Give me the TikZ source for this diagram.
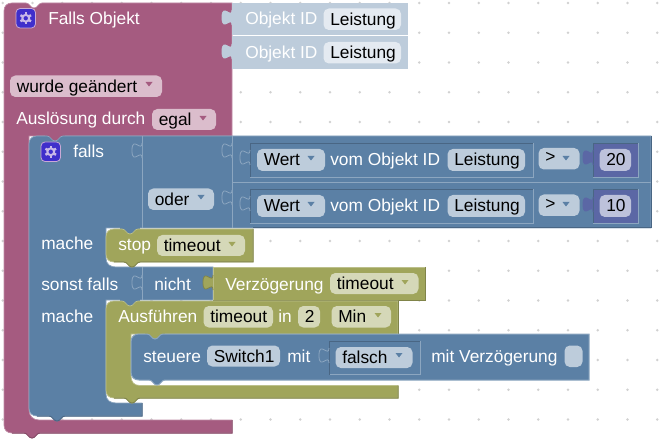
\documentclass[tikz,border=0pt]{standalone}
\usepackage{fontspec}
\setmainfont{Liberation Sans}

\definecolor{purpleblk}{HTML}{A55B80}
\definecolor{purpledk}{HTML}{844966}
\definecolor{purplehi}{HTML}{C08CA6}
\definecolor{purplefld}{HTML}{DBBDCC}
\definecolor{blueblk}{HTML}{5B80A5}
\definecolor{bluedk}{HTML}{496684}
\definecolor{bluehi}{HTML}{8CA6C0}
\definecolor{bluefld}{HTML}{BDCCDB}
\definecolor{greenblk}{HTML}{A0A55B}
\definecolor{greendk}{HTML}{808449}
\definecolor{greenhi}{HTML}{BCC08C}
\definecolor{greenfld}{HTML}{D5D8B8}
\definecolor{numblk}{HTML}{5B67A5}
\definecolor{numfld}{HTML}{BDC2DB}
\definecolor{shadowblk}{HTML}{BDCCDB}
\definecolor{shadowfld}{HTML}{E4EAF1}
\definecolor{iconblk}{HTML}{3F2FCB}
\definecolor{iconline}{HTML}{C9A9D6}
\definecolor{icongear}{HTML}{C8B8E8}

\tikzset{
  lbl/.style={anchor=base west,inner sep=0pt,text=white,font=\fontsize{13}{15}\selectfont},
  fldtext/.style={lbl,text=black},
  griddot/.style={fill=black!18},
  blockpurple/.style={fill=purpleblk,draw=purplehi,line width=0.5pt},
  blockblue/.style={fill=blueblk,draw=bluehi,line width=0.5pt},
  blockgreen/.style={fill=greenblk,draw=greenhi,line width=0.5pt},
  darkedge/.style={line width=0.75pt},
  divider/.style={draw=bluehi,line width=0.75pt},
}

% notches, going right or left along a block edge
\def\notchR{to[out=0,in=180] ++(8,5) to[out=0,in=180] ++(8,-5)}
\def\notchL{to[out=180,in=0] ++(-8,5) to[out=180,in=0] ++(-8,-5)}

% x, y, fill, line
\newcommand{\puzzletab}[4]{
  \draw [fill=#3,draw=#4,line width=0.6pt] (#1,#2) .. controls (#1,#2+10) and (#1-10,#2-8) .. (#1-10,#2+7.5) .. controls (#1-10,#2+23) and (#1,#2+5) .. (#1,#2+15);
}
% x1, y1, x2, y2, fill: sunken box of a plugged-in value
\newcommand{\insetbox}[5]{
  \fill [#5] (#1,#2) rectangle (#3,#4);
  \draw [bluehi,line width=0.6pt] (#3,#2) -- (#3,#4) -- (#1,#4);
  \draw [bluedk,line width=0.6pt] (#1,#4) -- (#1,#2) -- (#3,#2);
}
% [baseline offset] name, fill, x1, x2, y1, y2, text
\newcommand{\field}[8][6]{
  \fill [#3,rounded corners=4] (#4,#6) rectangle (#5,#7);
  \node (#2) [fldtext] at (#4+6.5,{(#6+#7)/2+#1}) {#8};
}
% x, y, colour
\newcommand{\dropdown}[3]{
  \fill [#3] (#1-3.5,#2-2) -- (#1+3.5,#2-2) -- (#1,#2+2.5) -- cycle;
}
% left, top
\newcommand{\gearicon}[2]{
  \draw [fill=iconblk,draw=iconline,rounded corners=3,line width=0.6pt] (#1,#2) rectangle (#1+19.5,#2+19.5);
  \draw [draw=icongear,line width=1.5pt] (#1+9.75,#2+9.75) circle (3.4);
  \foreach \a in {30,90,...,330}
    \draw [draw=icongear,line width=1.8pt] (#1+9.75,#2+9.75) ++(\a:3.5) -- ++(\a:2.6);
}

\begin{document}
\begin{tikzpicture}[x=0.75pt,y=0.75pt,yscale=-1,xscale=1]
\useasboundingbox (0,0) rectangle (659,441);
\fill [white] (0,0) rectangle (659,441);

%Grid dots
\foreach \i in {0,...,22}
  \foreach \j in {0,...,14}
    \fill [griddot] (2.8+29.75*\i,3+29.75*\j) circle (1.4);

%Shape: Falls Objekt
\draw [blockpurple] (4,11) .. controls (4,6) and (7,3) .. (12,3) -- (26,3) \notchR -- (232,3) -- (232,136) -- (29,136) -- (29,410) .. controls (29,416) and (33,420) .. (39,420) -- (232,420) -- (232,433) -- (40,433) \notchL -- (12,433) .. controls (7,433) and (4,430) .. (4,425) -- cycle;
\draw [purpledk,darkedge] (232,420) -- (232,433) -- (40,433) \notchL -- (12,433);
\fill [purpleblk] (45,135) rectangle (65,142);

%Shape: Objekt ID
\fill [shadowblk] (232,3) rectangle (408,35.5);
\fill [shadowblk] (232,36.5) rectangle (408,69);
\puzzletab{232}{10}{shadowblk}{shadowblk}
\puzzletab{232}{44}{shadowblk}{shadowblk}

%Shape: falls
\draw [blockblue] (29,144) .. controls (29,139) and (32,136) .. (37,136) -- (47,136) \notchR -- (651,136) -- (651,228) -- (106,228) -- (106,258) .. controls (106,264) and (110,267) .. (116,267) -- (213,267) -- (213,300) -- (106,300) -- (106,394) .. controls (106,400) and (110,403) .. (116,403) -- (142,403) -- (142,416) -- (65,416) \notchL -- (37,416) .. controls (32,416) and (29,413) .. (29,408) -- cycle;
\draw [bluedk,darkedge] (651,136) -- (651,228) -- (253,228);
\draw [bluedk,darkedge] (142,403) -- (142,416) -- (65,416) \notchL -- (37,416);
\fill [blueblk] (120,227) rectangle (140,235);
\fill [blueblk] (120,299) rectangle (140,307);

%Straight Lines
\draw [divider] (142,136) -- (142,228);
\draw [divider] (232,136) -- (232,228);
\draw [divider] (232,182.5) -- (651,182.5);
\draw [divider] (142,267) -- (142,300);

%Puzzle tabs
\puzzletab{142}{143}{blueblk}{bluehi}
\puzzletab{142}{275}{blueblk}{bluehi}
\puzzletab{232}{143}{blueblk}{bluehi}
\puzzletab{232}{190}{blueblk}{bluehi}

%Shape: Wert
\insetbox{250}{143.5}{533}{177.5}{blueblk}
\insetbox{250}{189.5}{533}{223}{blueblk}
\puzzletab{250}{150}{blueblk}{bluehi}
\puzzletab{250}{196}{blueblk}{bluehi}

%Shape: numbers
\insetbox{593}{143.5}{638}{177.5}{numblk}
\insetbox{593}{189.5}{638}{223}{numblk}
\puzzletab{593}{150}{numblk}{numblk}
\puzzletab{593}{197}{numblk}{numblk}

%Shape: stop
\draw [blockgreen] (106,237) .. controls (106,232) and (109,229) .. (114,229) -- (122,229) \notchR -- (253,229) -- (253,262) -- (140,262) \notchL -- (114,262) .. controls (109,262) and (106,259) .. (106,254) -- cycle;
\draw [greendk,darkedge] (253,229) -- (253,262) -- (140,262) \notchL -- (114,262);

%Shape: Verzoegerung
\draw [blockgreen] (213,267) rectangle (425.5,300);
\draw [greendk,darkedge] (425.5,267) -- (425.5,300) -- (213,300);
\puzzletab{213}{275}{greenblk}{greendk}

%Shape: Ausfuehren
\draw [blockgreen] (106,309) .. controls (106,304) and (109,301) .. (114,301) -- (122,301) \notchR -- (398,301) -- (398,334) -- (131,334) -- (131,376) .. controls (131,382) and (134,385.5) .. (140,385.5) -- (398,385.5) -- (398,398) -- (140,398) \notchL -- (114,398) .. controls (109,398) and (106,395) .. (106,390) -- cycle;
\draw [greendk,darkedge] (398,301) -- (398,334);
\draw [greendk,darkedge] (398,385.5) -- (398,398) -- (140,398) \notchL -- (114,398);
\fill [greenblk] (145,333) rectangle (165,340);

%Shape: steuere
\draw [fill=blueblk,draw=bluehi,line width=0.75pt] (131,342) .. controls (131,337) and (134,334) .. (139,334) -- (147,334) \notchR -- (589,334) -- (589,380) -- (165,380) \notchL -- (139,380) .. controls (134,380) and (131,377) .. (131,372) -- cycle;
\insetbox{329}{341}{420}{374.5}{blueblk}
\puzzletab{329}{348}{blueblk}{bluehi}

%Icons
\gearicon{16}{8.5}
\gearicon{41}{142}

% Text Node
\node (fallsobj) [lbl] at (48,25) {Falls Objekt};
\node (objid1) [lbl] at (245,25) {Objekt ID};
\node (objid2) [lbl] at (245,59) {Objekt ID};
\node (ausl) [lbl] at (16,125) {Auslösung durch};
\node (falls) [lbl] at (73,158) {falls};
\node (vom1) [lbl] at (330,166) {vom Objekt ID};
\node (vom2) [lbl] at (330,212) {vom Objekt ID};
\node (mache1) [lbl] at (41,249) {mache};
\node (stopl) [lbl] at (118,251) {stop};
\node (sonst) [lbl] at (41,290) {sonst falls};
\node (nicht) [lbl] at (154,290) {nicht};
\node (verz) [lbl] at (225,290) {Verzögerung};
\node (mache2) [lbl] at (41,322) {mache};
\node (ausf) [lbl] at (118,322) {Ausführen};
\node (inl) [lbl] at (278,322) {in};
\node (steu) [lbl] at (143,362) {steuere};
\node (mitl) [lbl] at (287,362) {mit};
\node (mitv) [lbl] at (431,362) {mit Verzögerung};

% Fields
\field{leist1}{shadowfld}{323.5}{401}{8.5}{30}{Leistung}
\field{leist2}{shadowfld}{323.5}{401}{42}{63.5}{Leistung}
\field{geaend}{purplefld}{10}{162}{75.5}{97}{wurde geändert}
\dropdown{149}{84}{purpleblk}
\field{egal}{purplefld}{152}{216}{109}{130}{egal}
\dropdown{203}{118}{purpleblk}
\field{oder}{bluefld}{148}{214}{188.5}{210}{oder}
\dropdown{201}{197}{blueblk}
\field{wert1}{bluefld}{257}{325}{149}{171}{Wert}
\dropdown{311}{158}{blueblk}
\field{wert2}{bluefld}{257}{325}{195}{217}{Wert}
\dropdown{311}{204}{blueblk}
\field{leist3}{bluefld}{447.5}{525}{149}{171}{Leistung}
\field{leist4}{bluefld}{447.5}{525}{195}{217}{Leistung}
\field[4]{gt1}{bluefld}{538.5}{579.5}{148}{169.5}{>}
\dropdown{566}{158}{blueblk}
\field[4]{gt2}{bluefld}{538.5}{579.5}{194.5}{216}{>}
\dropdown{566}{204}{blueblk}
\field{num1}{numfld}{599.5}{631}{149}{171}{20}
\field{num2}{numfld}{599.5}{631}{195}{217}{10}
\field{time1}{greenfld}{157}{245}{235}{256}{timeout}
\dropdown{232}{244}{greenblk}
\field{time2}{greenfld}{330}{418.5}{273}{294}{timeout}
\dropdown{405}{282}{greenblk}
\field{time3}{greenfld}{203.5}{273}{306}{327.5}{timeout}
\field{zwei}{greenfld}{298}{320}{306}{327.5}{2}
\field{minu}{greenfld}{331.5}{391}{306}{327.5}{Min}
\dropdown{378}{315}{greenblk}
\field{swi}{bluefld}{207}{280}{345.5}{366.5}{Switch1}
\field{fals}{bluefld}{335.5}{412.5}{347}{368}{falsch}
\dropdown{399}{355}{blueblk}
\fill [bluefld,rounded corners=4] (564.5,345.5) rectangle (582.5,367);

\end{tikzpicture}
\end{document}
